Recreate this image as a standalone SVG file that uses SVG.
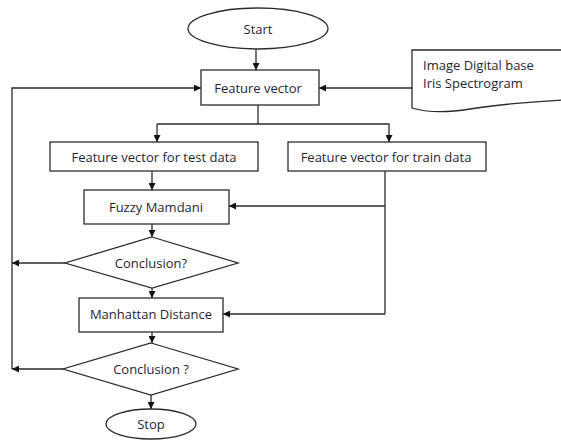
<svg xmlns="http://www.w3.org/2000/svg" width="561" height="443" viewBox="0 0 561 443">
  <style>
    .shape { fill: #ffffff; stroke: #2b2b2b; stroke-width: 1.3; }
    .wire { fill: none; stroke: #2b2b2b; stroke-width: 1.3; }
    .label { font-family: "Open Sans", "Liberation Sans", sans-serif; font-size: 13px; fill: #1f1f33; text-anchor: middle; dominant-baseline: central; }
    .doc { text-anchor: start; }
  </style>
  <defs>
    <marker id="arrow" viewBox="0 0 10 10" refX="10" refY="5" markerWidth="7" markerHeight="7" orient="auto" markerUnits="userSpaceOnUse">
      <path d="M0,0 L10,5 L0,10 Z" fill="#111"/>
    </marker>
  </defs>

  <g id="connectors">
    <line class="wire" x1="256" y1="49" x2="256" y2="70" marker-end="url(#arrow)"/>
    <line class="wire" x1="412" y1="88" x2="319" y2="88" marker-end="url(#arrow)"/>
    <line class="wire" x1="258" y1="105" x2="258" y2="124"/>
    <polyline class="wire" points="157,124 389,124 389,142" marker-end="url(#arrow)"/>
    <line class="wire" x1="157" y1="124" x2="157" y2="142" marker-end="url(#arrow)"/>
    <line class="wire" x1="152" y1="171" x2="152" y2="190" marker-end="url(#arrow)"/>
    <polyline class="wire" points="385,171 385,314"/>
    <line class="wire" x1="385" y1="206" x2="229" y2="206" marker-end="url(#arrow)"/>
    <line class="wire" x1="385" y1="314" x2="223" y2="314" marker-end="url(#arrow)"/>
    <line class="wire" x1="152" y1="224" x2="152" y2="237" marker-end="url(#arrow)"/>
    <line class="wire" x1="65" y1="263" x2="12" y2="263" marker-end="url(#arrow)"/>
    <line class="wire" x1="152" y1="288" x2="152" y2="298" marker-end="url(#arrow)"/>
    <line class="wire" x1="152" y1="332" x2="152" y2="343" marker-end="url(#arrow)"/>
    <line class="wire" x1="63" y1="369" x2="12" y2="369" marker-end="url(#arrow)"/>
    <polyline class="wire" points="12,369 12,88 201,88" marker-end="url(#arrow)"/>
    <line class="wire" x1="151" y1="395" x2="151" y2="409" marker-end="url(#arrow)"/>
  </g>

  <g id="start">
    <ellipse class="shape" cx="258" cy="28.5" rx="70" ry="20.5"/>
    <text class="label" x="258" y="28.5">Start</text>
  </g>

  <g id="feature-vector">
    <rect class="shape" x="201" y="70" width="118" height="35"/>
    <text class="label" x="258" y="87.5">Feature vector</text>
  </g>

  <g id="image-base">
    <path class="shape" d="M412,50 H562 V100 C530,102 500,104 470,109 C445,113 425,112 412,108 Z"/>
    <text class="label doc" x="423" y="65">Image Digital base</text>
    <text class="label doc" x="423" y="83">Iris Spectrogram</text>
  </g>

  <g id="test-data">
    <rect class="shape" x="50" y="142" width="208" height="29"/>
    <text class="label" x="154" y="156.5">Feature vector for test data</text>
  </g>

  <g id="train-data">
    <rect class="shape" x="288" y="142" width="198" height="29"/>
    <text class="label" x="386" y="156.5">Feature vector for train data</text>
  </g>

  <g id="fuzzy-mamdani">
    <rect class="shape" x="84" y="190" width="145" height="34"/>
    <text class="label" x="156" y="207">Fuzzy Mamdani</text>
  </g>

  <g id="conclusion-1">
    <polygon class="shape" points="152,237 238,263 152,288 65,263"/>
    <text class="label" x="151" y="263">Conclusion?</text>
  </g>

  <g id="manhattan-distance">
    <rect class="shape" x="79" y="298" width="144" height="34"/>
    <text class="label" x="151" y="314">Manhattan Distance</text>
  </g>

  <g id="conclusion-2">
    <polygon class="shape" points="151,343 238,369 151,395 63,369"/>
    <text class="label" x="151" y="369">Conclusion ?</text>
  </g>

  <g id="stop">
    <ellipse class="shape" cx="151" cy="424" rx="45" ry="15"/>
    <text class="label" x="151" y="424">Stop</text>
  </g>
</svg>
